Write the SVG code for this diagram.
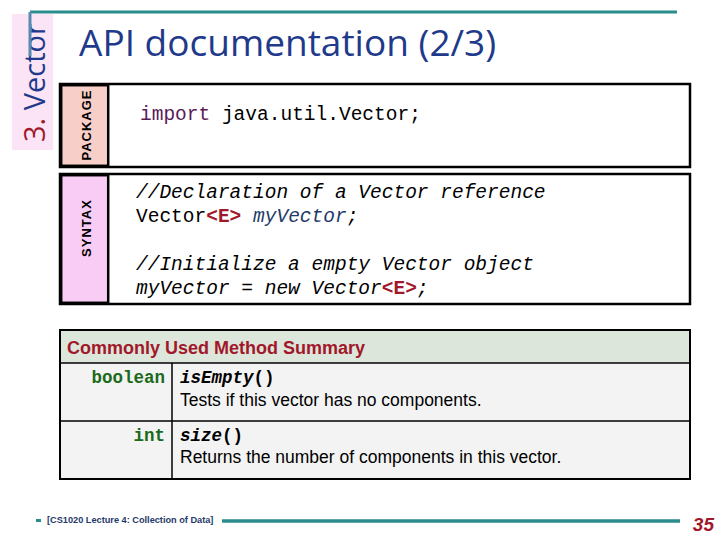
<svg xmlns="http://www.w3.org/2000/svg" width="720" height="540" viewBox="0 0 720 540">
<style>
.box{fill:#fff;stroke:#000;stroke-width:2.5}
.code{font-family:"Liberation Mono",monospace;font-size:19.5px;fill:#000}
.it{font-style:italic}
.lbl{font-family:"Liberation Sans",sans-serif;font-weight:bold;font-size:13px;letter-spacing:1px}
.sans{font-family:"Liberation Sans",sans-serif;font-size:17.5px}
</style>
<rect width="720" height="540" fill="#fff"/>
<g id="header">
<rect x="12" y="14" width="41" height="136" fill="#FBE4F6"/>
<text transform="translate(45,142) rotate(-90)" font-family="Open Sans,sans-serif" font-size="29" fill="#1F3A8A"><tspan fill="#A0182A">3.</tspan> Vector</text>
<line x1="30" y1="12" x2="677" y2="12" stroke="#2A8C8C" stroke-width="3"/>
<line x1="30" y1="12" x2="30" y2="56" stroke="#5A8AB0" stroke-width="3"/>
<text x="79" y="56" font-family="Open Sans,sans-serif" font-size="37" fill="#1F3A8A">API documentation (2/3)</text>
</g>
<g id="package">
<rect class="box" x="60" y="84" width="630" height="83"/>
<rect x="61.2" y="85.2" width="47" height="80.6" fill="#F8CFC8" stroke="#000" stroke-width="2.5"/>
<text class="lbl" text-anchor="middle" transform="translate(91,125) rotate(-90)">PACKAGE</text>
<text class="code" x="140" y="120"><tspan fill="#5A1A5A">import</tspan> java.util.Vector;</text>
</g>
<g id="syntax">
<rect class="box" x="60" y="174" width="630" height="130"/>
<rect x="61.2" y="175.2" width="47" height="127.6" fill="#F8CCF4" stroke="#000" stroke-width="2.5"/>
<text class="lbl" text-anchor="middle" transform="translate(91,228) rotate(-90)">SYNTAX</text>
<text class="code it" x="136" y="198">//Declaration of a Vector reference</text>
<text class="code" x="136" y="222">Vector<tspan fill="#A0182A" font-weight="bold">&lt;E&gt;</tspan> <tspan class="it" fill="#1F3A6A">myVector</tspan><tspan class="it">;</tspan></text>
<text class="code it" x="136" y="270">//Initialize a empty Vector object</text>
<text class="code it" x="136" y="294">myVector = new Vector<tspan fill="#A0182A" font-weight="bold" font-style="normal">&lt;E&gt;</tspan>;</text>
</g>
<g id="methods">
<rect x="60" y="330" width="630" height="149" fill="#F3F3F3" stroke="#000" stroke-width="2"/>
<rect x="61" y="331" width="628" height="32" fill="#DDE6DA"/>
<line x1="60" y1="363" x2="690" y2="363" stroke="#000" stroke-width="1.5"/>
<line x1="60" y1="421" x2="690" y2="421" stroke="#000" stroke-width="1.5"/>
<line x1="172" y1="363" x2="172" y2="479" stroke="#000" stroke-width="1.5"/>
<text x="67" y="354" font-family="Liberation Sans,sans-serif" font-weight="bold" font-size="18" fill="#A0182A">Commonly Used Method Summary</text>
<text x="165" y="383" text-anchor="end" font-family="Liberation Mono,monospace" font-weight="bold" font-size="17.5" fill="#1A6A1A">boolean</text>
<text x="180" y="383" font-family="Liberation Mono,monospace" font-weight="bold" font-style="italic" font-size="17.5">isEmpty<tspan font-style="normal">()</tspan></text>
<text class="sans" x="180" y="406">Tests if this vector has no components.</text>
<text x="165" y="441" text-anchor="end" font-family="Liberation Mono,monospace" font-weight="bold" font-size="17.5" fill="#1A6A1A">int</text>
<text x="180" y="441" font-family="Liberation Mono,monospace" font-weight="bold" font-style="italic" font-size="17.5">size<tspan font-style="normal">()</tspan></text>
<text class="sans" x="180" y="463">Returns the number of components in this vector.</text>
</g>
<g id="footer">
<rect x="36" y="519" width="5" height="3" fill="#2A8C8C"/>
<text x="47" y="523" font-family="Liberation Sans,sans-serif" font-weight="bold" font-size="9.2" fill="#1F3A6A">[CS1020 Lecture 4: Collection of Data]</text>
<line x1="222" y1="521" x2="680" y2="521" stroke="#2A8C8C" stroke-width="3.5"/>
<text x="714" y="531" text-anchor="end" font-family="Liberation Sans,sans-serif" font-weight="bold" font-style="italic" font-size="19" fill="#A0182A">35</text>
</g>
</svg>
